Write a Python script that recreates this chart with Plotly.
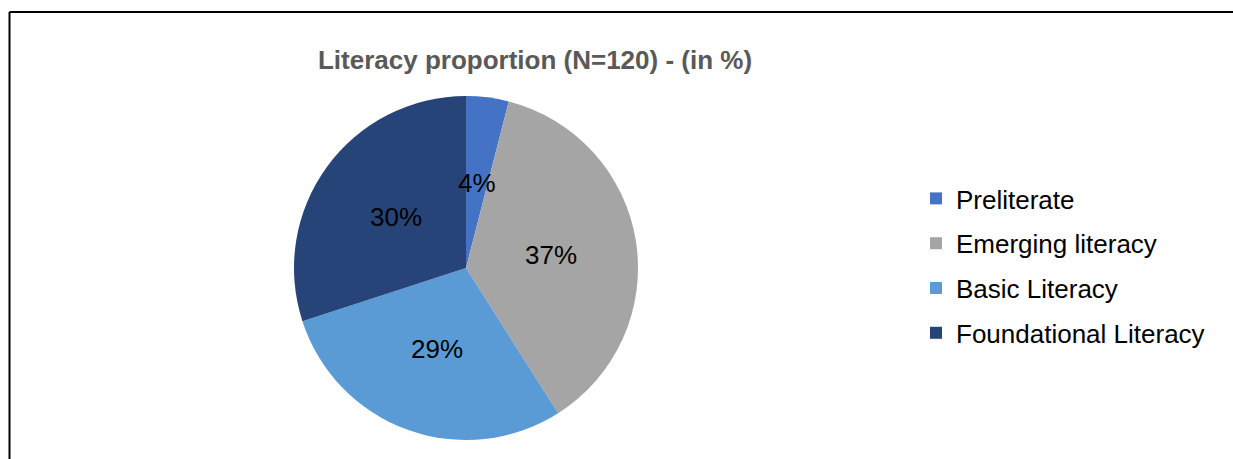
import math
import plotly.graph_objects as go

# Literacy levels and their shares (%), N=120
categories = ["Preliterate", "Emerging literacy", "Basic Literacy", "Foundational Literacy"]
shares = [4, 37, 29, 30]
colors = ["#4472C4", "#A5A5A5", "#5B9BD5", "#264478"]
title_text = "Literacy proportion (N=120) - (in %)"

W, H = 1233, 459
FONT = "Arial, 'Liberation Sans', sans-serif"

# pie placement in pixels (left, right, top, bottom)
PIE_L, PIE_R, PIE_T, PIE_B = 294, 638, 96, 440
dom_x = [PIE_L / W, PIE_R / W]
dom_y = [1 - PIE_B / H, 1 - PIE_T / H]

fig = go.Figure()

fig.add_trace(go.Pie(
    labels=categories,
    values=shares,
    sort=False,
    direction="clockwise",
    rotation=0,
    marker=dict(colors=colors, line=dict(width=0)),
    textinfo="none",
    domain=dict(x=dom_x, y=dom_y),
    showlegend=False,
    hoverinfo="label+percent",
))

# Data labels: halfway out along each slice's middle angle
cx = (PIE_L + PIE_R) / 2
cy = (PIE_T + PIE_B) / 2
radius = (PIE_R - PIE_L) / 2
total = sum(shares)
annotations = []
start = 0.0
for v in shares:
    mid = start + v / 2
    theta = 2 * math.pi * mid / total
    px = cx + 0.5 * radius * math.sin(theta)
    py = cy - 0.5 * radius * math.cos(theta)
    annotations.append(dict(
        x=px / W, y=1 - py / H, xref="paper", yref="paper",
        text=f"{v}%", showarrow=False, xanchor="center", yanchor="middle",
        font=dict(family=FONT, size=26, color="#000000"),
    ))
    start += v

# Legend entries as separate groups so the rows can be spaced apart
for name, col in zip(categories, colors):
    fig.add_trace(go.Scatter(
        x=[None], y=[None], mode="markers", name=name, legendgroup=name,
        marker=dict(symbol="square", size=12, color=col),
    ))

fig.update_layout(
    width=W, height=H,
    margin=dict(l=0, r=0, t=0, b=0),
    paper_bgcolor="white",
    plot_bgcolor="white",
    xaxis=dict(visible=False),
    yaxis=dict(visible=False),
    title=dict(
        text=title_text,
        x=535 / W, xanchor="center",
        y=1 - 60 / H, yanchor="middle",
        font=dict(family=FONT, size=26, color="#595959", weight="bold"),
    ),
    legend=dict(
        x=916 / W, xanchor="left",
        y=1 - 175 / H, yanchor="top",
        font=dict(family=FONT, size=26, color="#000000"),
        tracegroupgap=8,
        itemsizing="trace",
        bgcolor="rgba(0,0,0,0)",
    ),
    annotations=annotations,
    shapes=[
        dict(type="line", xref="paper", yref="paper",
             x0=9.5 / W, x1=1.0, y0=1 - 12 / H, y1=1 - 12 / H,
             line=dict(color="#000000", width=2)),
        dict(type="line", xref="paper", yref="paper",
             x0=9.5 / W, x1=9.5 / W, y0=1 - 12 / H, y1=0,
             line=dict(color="#000000", width=2)),
    ],
    hovermode=False,
)

fig.write_html("out.html")
